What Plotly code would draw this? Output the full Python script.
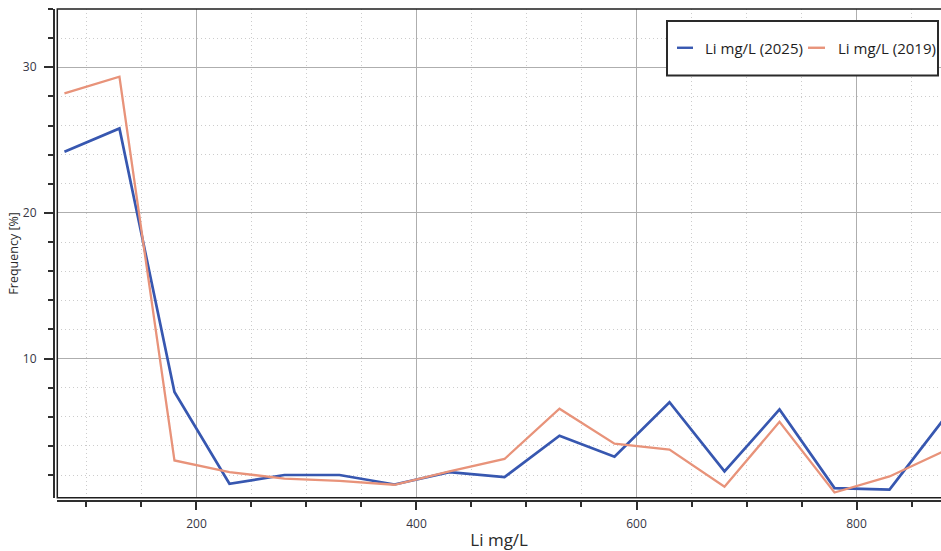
import plotly.graph_objects as go

# Lithium concentration bins (mg/L) and frequency per bin (%)
li_bins = [80, 130, 180, 230, 280, 330, 380, 430, 480, 530, 580, 630, 680, 730, 780, 830, 880]
freq_2025 = [24.2, 25.8, 7.7, 1.4, 2.0, 2.0, 1.35, 2.2, 1.85, 4.7, 3.25, 7.0, 2.25, 6.5, 1.1, 1.0, 5.9]
freq_2019 = [28.2, 29.35, 3.0, 2.2, 1.75, 1.6, 1.33, 2.25, 3.1, 6.55, 4.15, 3.75, 1.2, 5.65, 0.8, 1.9, 3.65]

series_names = ["Li mg/L (2025)", "Li mg/L (2019)"]
series_colors = ["#3757b0", "#e8937a"]

W, H = 941, 551
M_L, M_R, M_T, M_B = 54, 0, 9, 47
plot_w = W - M_L - M_R
plot_h = H - M_T - M_B


def px_x(x):
    return (x - M_L) / plot_w


def px_y(y):
    return (H - M_B - y) / plot_h


FONT = "Open Sans, Noto Sans, sans-serif"
AXIS_COLOR = "#2e2e2e"
TICK_FONT = dict(family=FONT, size=12, color="#363644")
MINOR_DASH = "1px,3px"

fig = go.Figure()
for name, ys, color, width in zip(series_names, [freq_2025, freq_2019], series_colors, [2.7, 2.3]):
    fig.add_trace(go.Scatter(
        x=li_bins, y=ys, name=name, mode="lines",
        line=dict(color=color, width=width),
        showlegend=False,
    ))

fig.update_layout(
    width=W, height=H,
    margin=dict(l=M_L, r=M_R, t=M_T, b=M_B, pad=0),
    paper_bgcolor="white", plot_bgcolor="white",
    xaxis=dict(
        domain=[px_x(57.3), 1], range=[73.5, 876.8],
        anchor="free", position=0,
        tick0=0, dtick=200,
        showline=True, linecolor=AXIS_COLOR, linewidth=2,
        ticks="outside", ticklen=8, tickwidth=1.5, tickcolor=AXIS_COLOR,
        tickfont=TICK_FONT, ticklabelstandoff=4,
        showgrid=True, gridcolor="#aeaeae", gridwidth=1,
        zeroline=False,
        minor=dict(dtick=50, tick0=0, ticks="outside", ticklen=5, tickwidth=1.5,
                   tickcolor=AXIS_COLOR, showgrid=True, gridcolor="#cccccc",
                   griddash=MINOR_DASH, gridwidth=1),
        title=dict(text="Li mg/L", font=dict(family=FONT, size=17, color="#2a2a2a"),
                   standoff=7),
    ),
    yaxis=dict(
        domain=[px_y(500.7), 1], range=[0.44, 34.0],
        anchor="free", position=0,
        tick0=0, dtick=10,
        showline=True, linecolor=AXIS_COLOR, linewidth=2,
        ticks="outside", ticklen=9, tickwidth=1.5, tickcolor=AXIS_COLOR,
        tickfont=TICK_FONT, ticklabelstandoff=5,
        showgrid=True, gridcolor="#aeaeae", gridwidth=1,
        zeroline=False,
        minor=dict(dtick=2, tick0=0, ticks="outside", ticklen=5, tickwidth=1.5,
                   tickcolor=AXIS_COLOR, showgrid=True, gridcolor="#cccccc",
                   griddash=MINOR_DASH, gridwidth=1),
        title=dict(text="Frequency [%]", font=dict(family=FONT, size=12.5, color="#2a2a2a"),
                   standoff=0),
    ),
)

# Plot frame
fig.add_shape(type="rect", xref="x domain", yref="y domain",
              x0=0, x1=1.02, y0=0, y1=1,
              line=dict(color="#1e1e1e", width=1.5), fillcolor="rgba(0,0,0,0)",
              layer="above")

# Legend box with line samples and labels
fig.add_shape(type="rect", xref="paper", yref="paper",
              x0=px_x(667), x1=px_x(938), y0=px_y(76), y1=px_y(21),
              line=dict(color="#2a2a2a", width=2), fillcolor="white", layer="above")
legend_y = px_y(48)
for name, color, lx0, lx1, tx in zip(series_names, series_colors,
                                     [677, 808], [693, 825], [703, 836]):
    fig.add_shape(type="line", xref="paper", yref="paper",
                  x0=px_x(lx0), x1=px_x(lx1), y0=legend_y, y1=legend_y,
                  line=dict(color=color, width=2.4), layer="above")
    fig.add_annotation(text=name, xref="paper", yref="paper",
                       x=px_x(tx), y=legend_y, xanchor="left", yanchor="middle",
                       showarrow=False,
                       font=dict(family=FONT, size=15, color="#1e1e1e"))

fig.write_html("out.html")
